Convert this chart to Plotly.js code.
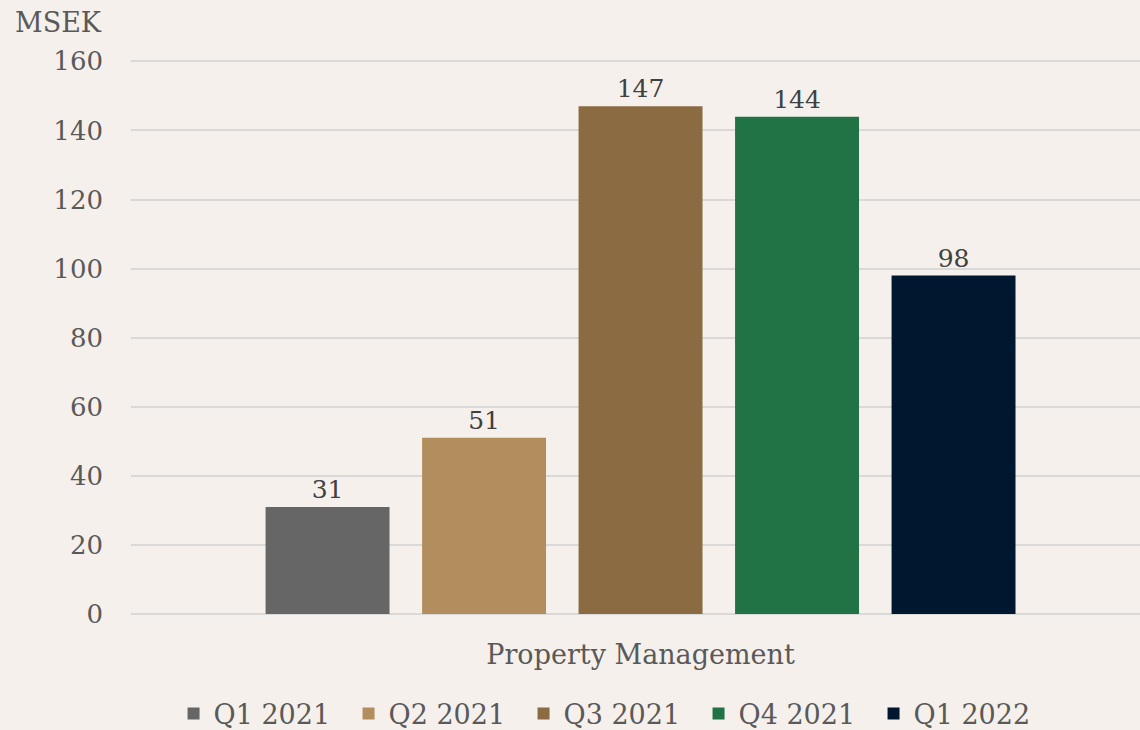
<!DOCTYPE html>
<html>
<head>
<meta charset="utf-8">
<script src="https://cdn.plot.ly/plotly-3.0.1.min.js"></script>
<style>html,body{margin:0;padding:0;background:#F5F0EC;overflow:hidden}</style>
</head>
<body>
<div id="chart" style="width:1140px;height:730px"></div>
<script>
const category = ["Property Management"];
const seriesNames = ["Q1 2021", "Q2 2021", "Q3 2021", "Q4 2021", "Q1 2022"];
const seriesValues = [31, 51, 147, 144, 98];
const seriesColors = ["#666666", "#B28E5E", "#8B6B42", "#217346", "#001730"];
const yTicks = [0, 20, 40, 60, 80, 100, 120, 140, 160];
const unitLabel = "MSEK";

const FONT = "Georgia, 'DejaVu Serif', serif";

const traces = seriesNames.map((name, i) => ({
  type: "bar",
  name: name,
  x: category,
  y: [seriesValues[i]],
  marker: {color: seriesColors[i]},
  text: [String(seriesValues[i])],
  textposition: "outside",
  cliponaxis: false,
  textfont: {family: FONT, size: 25, color: "#404040"},
  hoverinfo: "skip"
}));

const layout = {
  width: 1140, height: 730,
  paper_bgcolor: "#F5F0EC",
  plot_bgcolor: "#F5F0EC",
  margin: {l: 131, r: 0, t: 60, b: 116, autoexpand: false},
  barmode: "group",
  bargap: 0.2245,
  bargroupgap: 0.208,
  showlegend: true,
  font: {family: FONT, color: "#595959", size: 26},
  xaxis: {
    type: "category",
    range: [-0.505, 0.495],
    showgrid: false,
    zeroline: false,
    showline: false,
    ticks: "",
    automargin: false,
    ticklabelstandoff: 22,
    tickfont: {family: FONT, size: 27, color: "#595959"}
  },
  yaxis: {
    range: [0, 160.4],
    tickvals: yTicks,
    ticktext: yTicks.map(String),
    showgrid: true,
    gridcolor: "#D9D9D9",
    gridwidth: 2,
    zeroline: true,
    zerolinecolor: "#D9D9D9",
    zerolinewidth: 2,
    showline: false,
    ticks: "",
    automargin: false,
    ticklabelstandoff: 27,
    tickfont: {family: FONT, size: 26, color: "#595959"}
  },
  legend: {
    orientation: "h",
    xref: "container", yref: "container",
    x: 0.536, xanchor: "center",
    y: 0.022, yanchor: "middle",
    font: {family: FONT, size: 27, color: "#595959"},
    bgcolor: "rgba(0,0,0,0)",
    itemwidth: 30,
    entrywidth: 130,
    entrywidthmode: "pixels",
    traceorder: "normal"
  },
  annotations: [{
    text: unitLabel,
    xref: "paper", yref: "paper",
    x: -0.117, y: 1.0,
    xanchor: "left", yanchor: "bottom",
    yshift: 20,
    showarrow: false,
    font: {family: FONT, size: 27, color: "#595959"}
  }]
};

Plotly.newPlot("chart", traces, layout, {displayModeBar: false, staticPlot: true});
</script>
</body>
</html>
